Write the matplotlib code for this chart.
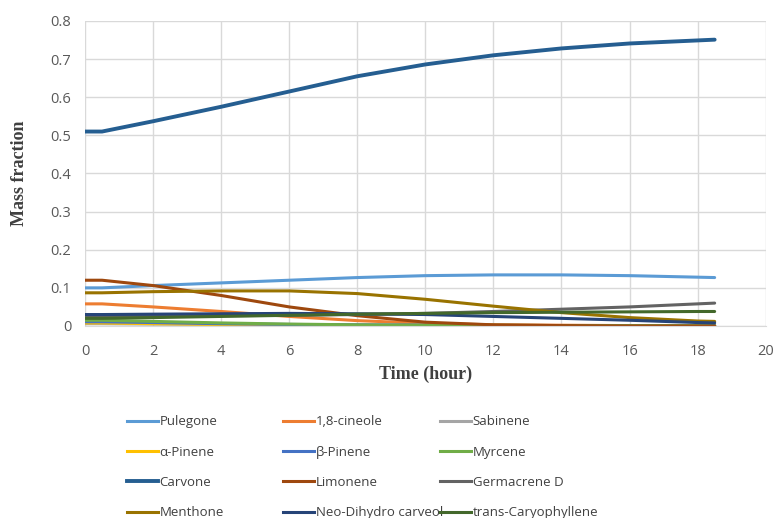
import matplotlib
matplotlib.use("Agg")
import matplotlib.pyplot as plt
from matplotlib.lines import Line2D

time = [0, 0.5, 2, 4, 6, 8, 10, 12, 14, 16, 18, 18.5]

pulegone   = [0.100, 0.100, 0.106, 0.113, 0.120, 0.127, 0.132, 0.134, 0.134, 0.132, 0.128, 0.127]
cineole    = [0.058, 0.058, 0.050, 0.038, 0.025, 0.014, 0.007, 0.003, 0.002, 0.001, 0.001, 0.001]
sabinene   = [0.006, 0.006, 0.005, 0.004, 0.003, 0.002, 0.002, 0.001, 0.001, 0.001, 0.001, 0.001]
a_pinene   = [0.008, 0.008, 0.006, 0.004, 0.002, 0.001, 0.001, 0.000, 0.000, 0.000, 0.000, 0.000]
b_pinene   = [0.011, 0.011, 0.009, 0.006, 0.004, 0.003, 0.002, 0.001, 0.001, 0.001, 0.001, 0.001]
myrcene    = [0.015, 0.015, 0.012, 0.008, 0.005, 0.003, 0.002, 0.002, 0.001, 0.001, 0.001, 0.001]
carvone    = [0.510, 0.510, 0.537, 0.575, 0.615, 0.655, 0.686, 0.710, 0.728, 0.741, 0.749, 0.751]
limonene   = [0.120, 0.120, 0.106, 0.080, 0.050, 0.027, 0.010, 0.003, 0.001, 0.000, 0.000, 0.000]
germacrene = [0.025, 0.025, 0.026, 0.027, 0.028, 0.030, 0.033, 0.038, 0.044, 0.050, 0.058, 0.060]
menthone   = [0.087, 0.087, 0.090, 0.092, 0.092, 0.085, 0.070, 0.052, 0.035, 0.022, 0.013, 0.012]
neodihydro = [0.030, 0.030, 0.031, 0.032, 0.033, 0.032, 0.030, 0.025, 0.020, 0.015, 0.009, 0.008]
caryoph    = [0.020, 0.020, 0.022, 0.025, 0.028, 0.031, 0.033, 0.035, 0.036, 0.037, 0.038, 0.038]

names = ["Pulegone", "1,8-cineole", "Sabinene", "α-Pinene", "β-Pinene", "Myrcene",
         "Carvone", "Limonene", "Germacrene D", "Menthone", "Neo-Dihydro carveol",
         "trans-Caryophyllene"]
series = [pulegone, cineole, sabinene, a_pinene, b_pinene, myrcene,
          carvone, limonene, germacrene, menthone, neodihydro, caryoph]
colors = ["#5B9BD5", "#ED7D31", "#A5A5A5", "#FFC000", "#4472C4", "#70AD47",
          "#255E91", "#9E480E", "#636363", "#997300", "#264478", "#43682B"]
widths = [2.2]*12
widths[6] = 2.8

fig = plt.figure(figsize=(7.75, 5.18), dpi=100)
ax = fig.add_axes([0.1097, 0.3707, 0.8783, 0.5888])

for name, ys, c, w in zip(names, series, colors, widths):
    ax.plot(time, ys, color=c, lw=w, label=name, solid_capstyle="round")

ax.set_xlim(0, 20)
ax.set_ylim(0, 0.8)
ax.set_xticks(range(0, 21, 2))
ax.set_yticks([i/10 for i in range(9)])
ax.set_yticklabels(["0"] + [f"{i/10:.1f}" for i in range(1, 9)])
ax.grid(True, color="#D9D9D9", lw=1)
ax.set_axisbelow(True)
for s in ["top", "right", "left"]:
    ax.spines[s].set_visible(False)
ax.spines["bottom"].set_color("#D9D9D9")
ax.tick_params(axis="x", length=0, colors="#595959", pad=13)
ax.tick_params(axis="y", length=0, colors="#595959", pad=10)
for lab in ax.get_xticklabels() + ax.get_yticklabels():
    lab.set_family("Open Sans")
    lab.set_fontsize(10.5)

ax.set_xlabel("Time (hour)", fontfamily="Liberation Serif", fontweight="bold",
              fontsize=13, color="#404040", labelpad=5)
ax.set_ylabel("Mass fraction", fontfamily="Liberation Serif", fontweight="bold",
              fontsize=13, color="#404040", labelpad=16)

handles = [Line2D([], [], color=c, lw=2.2 if i != 6 else 2.8) for i, c in enumerate(colors)]
col_x = [0.1574, 0.3587, 0.5613]
for ci in range(3):
    idx = [ci, ci + 3, ci + 6, ci + 9]
    leg = fig.legend([handles[i] for i in idx], [names[i] for i in idx],
                     loc="upper left", bbox_to_anchor=(col_x[ci], 0.2085),
                     frameon=False, handlelength=2.3, handletextpad=0.15,
                     labelspacing=1.31, borderaxespad=0,
                     prop={"family": "Open Sans", "size": 9.5})
    for t in leg.get_texts():
        t.set_color("#404040")

fig.savefig("out.png", dpi=100)
